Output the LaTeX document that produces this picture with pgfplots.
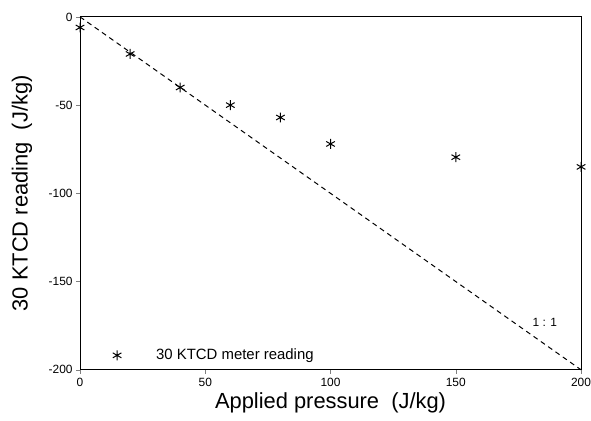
\documentclass[border=0pt]{standalone}
\usepackage{pgfplots}
\pgfplotsset{compat=1.18}
\usepackage{fontspec}
\setmainfont{Liberation Sans}
\begin{document}
\begin{tikzpicture}
\begin{axis}[
  scale only axis,
  width=504pt, height=355pt,
  xmin=0, xmax=200, ymin=-200, ymax=0,
  xtick={0,50,100,150,200},
  ytick={-200,-150,-100,-50,0},
  tick align=outside,
  xtick pos=bottom, ytick pos=left,
  major tick length=4pt,
  axis line style={line width=0.9pt},
  /pgf/number format/assume math mode=true,
  tick label style={font=\fontsize{12}{14}\selectfont},
  xticklabel style={yshift=-1pt},
  xlabel={Applied pressure\ \ (J/kg)},
  ylabel={30 KTCD reading\ \ (J/kg)},
  label style={font=\fontsize{22}{26}\selectfont},
  xlabel style={at={(axis description cs:0.5,-0.093)}, anchor=center},
  ylabel style={at={(axis description cs:-0.116,0.5)}, anchor=center},
  legend style={draw=none, fill=none, at={(axis description cs:0.059,0.041)}, anchor=west, font=\fontsize{15}{18}\selectfont},
  legend cell align=left,
  clip=false,
]
\addplot[only marks, mark=asterisk, mark size=5pt, line width=1pt, black] coordinates {
(0,-6) (20,-21) (40,-40) (60,-50) (80,-57) (100,-72) (150,-79.5) (200,-85)
};
\addlegendentry{\hspace{33pt}30 KTCD meter reading}
\addplot[black, dash pattern=on 5pt off 4pt, line width=1pt, forget plot] coordinates {(0,0) (200,-200)};
\node[font=\fontsize{12}{14}\selectfont] at (axis cs:185.5,-173) {1 : 1};
\end{axis}
\pgfresetboundingbox
\useasboundingbox ([xshift=-80.5pt,yshift=-51pt]current axis.south west) rectangle ([xshift=10pt,yshift=17pt]current axis.north east);
\end{tikzpicture}
\end{document}
